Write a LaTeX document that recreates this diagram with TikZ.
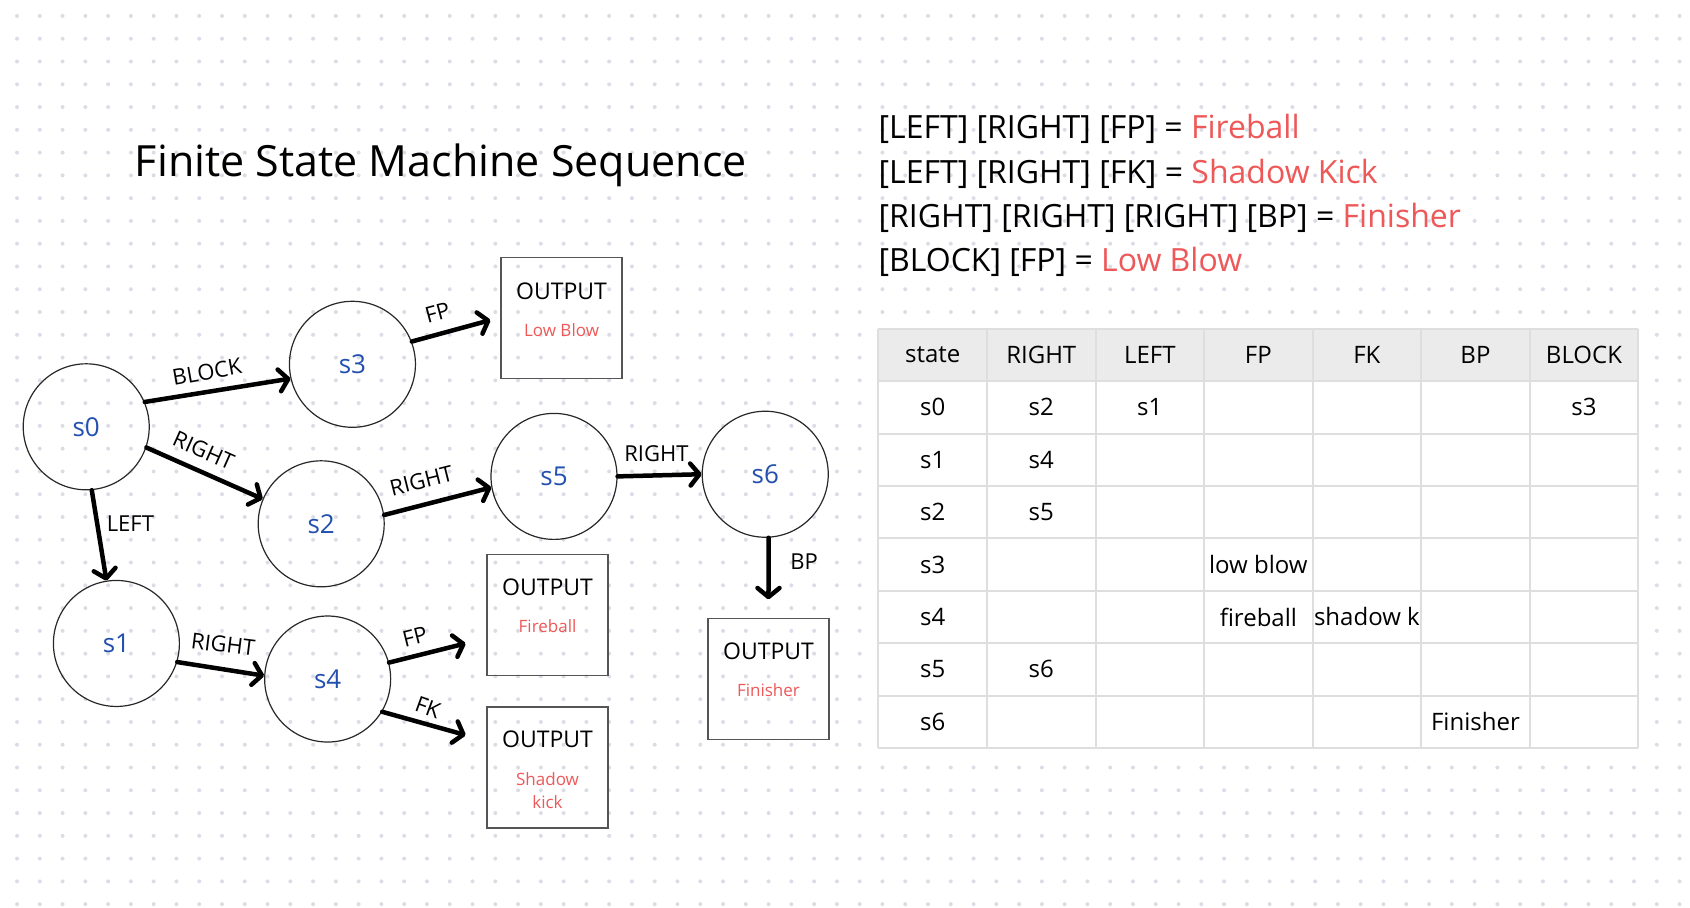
\documentclass[tikz,border=0pt]{standalone}
\usepackage{fontspec}
\setmainfont{Open Sans}
\newfontfamily\tabfont{Open Sans}
\usetikzlibrary{arrows.meta,calc}
\definecolor{dotc}{RGB}{218,221,230}
\definecolor{stblue}{RGB}{35,80,175}
\definecolor{outred}{RGB}{238,88,88}
\definecolor{tabline}{RGB}{222,222,222}
\definecolor{tabhead}{RGB}{235,235,235}
\definecolor{boxc}{RGB}{85,85,85}
\definecolor{circc}{RGB}{40,40,40}
\newcommand\mycell[3]{\node[cell] (t#1#2) at ({815+100.714*(#2+0.5)},{305+48.625*(#1+0.5)}) {#3};}
\begin{document}
\begin{tikzpicture}[x={(1.0778pt,0pt)}, y={(0pt,-1.0778pt)},
 state/.style={circle, draw=circc, line width=1.2pt, minimum size=126pt, inner sep=0pt, text=stblue, font=\fontsize{26}{30}\selectfont},
 outbox/.style={rectangle, draw=boxc, line width=1.4pt, minimum width=121pt, minimum height=121pt, inner sep=0pt},
 outtxt/.style={inner sep=0pt, font=\fontsize{23}{26}\selectfont},
 redtxt/.style={inner sep=0pt, text=outred, font=\fontsize{17}{20}\selectfont},
 edgelbl/.style={inner sep=0pt, font=\fontsize{22}{26}\selectfont},
 trans/.style={line width=4.5pt, line cap=round, -{Straight Barb[length=9pt,width=22pt,line cap=round,line join=round]}},
 cell/.style={inner sep=0pt, font=\tabfont\fontsize{24}{28}\selectfont},
 listtxt/.style={anchor=west, inner sep=0pt, font=\fontsize{32}{38}\selectfont}
]
\useasboundingbox (0,0) rectangle (1568,842);
\fill[white] (0,0) rectangle (1568,842);
\foreach \i in {0,...,73} \foreach \j in {0,...,39} \fill[dotc] (15.8+21.13*\i, 14.8+21.13*\j) circle (2pt);

% title and legend
\node[inner sep=0pt, font=\fontsize{43}{50}\selectfont] (title) at (409,153) {Finite State Machine Sequence};
\node[listtxt] (l1) at (815,120) {[LEFT] [RIGHT] [FP] = \textcolor{outred}{Fireball}};
\node[listtxt] (l2) at (815,161) {[LEFT] [RIGHT] [FK] = \textcolor{outred}{Shadow Kick}};
\node[listtxt] (l3) at (815,202) {[RIGHT] [RIGHT] [RIGHT] [BP] = \textcolor{outred}{Finisher}};
\node[listtxt] (l4) at (815,243) {[BLOCK] [FP] = \textcolor{outred}{Low Blow}};

% table
\fill[white] (815,305) rectangle (1520,694);
\fill[tabhead] (815,305) rectangle (1520,353.6);
\foreach \k in {0,...,7} \draw[tabline, line width=2pt] (815+100.714*\k,305) -- (815+100.714*\k,694);
\foreach \k in {0,...,8} \draw[tabline, line width=2pt] (815,305+48.625*\k) -- (1520,305+48.625*\k);
\mycell{0}{0}{state}\mycell{0}{1}{RIGHT}\mycell{0}{2}{LEFT}\mycell{0}{3}{FP}\mycell{0}{4}{FK}\mycell{0}{5}{BP}\mycell{0}{6}{BLOCK}
\mycell{1}{0}{s0}\mycell{1}{1}{s2}\mycell{1}{2}{s1}\mycell{1}{6}{s3}
\mycell{2}{0}{s1}\mycell{2}{1}{s4}
\mycell{3}{0}{s2}\mycell{3}{1}{s5}
\mycell{4}{0}{s3}\mycell{4}{3}{low blow}
\mycell{5}{0}{s4}\mycell{5}{3}{fireball}\mycell{5}{4}{shadow k}
\mycell{6}{0}{s5}\mycell{6}{1}{s6}
\mycell{7}{0}{s6}\mycell{7}{5}{Finisher}

% states
\node[state] (s0) at (80,396) {s0};
\node[state] (s3) at (327,338) {s3};
\node[state] (s2) at (298,486) {s2};
\node[state] (s5) at (514,442) {s5};
\node[state] (s6) at (710,440) {s6};
\node[state] (s1) at (108,597) {s1};
\node[state] (s4) at (304,630) {s4};

% output boxes
\node[outbox] (b3) at (521,295) {};
\node[outtxt] (b3o) at ($(b3.north)+(0,32)$) {OUTPUT};
\node[redtxt] (b3r) at ($(b3.north)+(0,68)$) {Low Blow};
\node[outbox] (bfb) at (508,570.5) {};
\node[outtxt] (bfbo) at ($(bfb.north)+(0,31)$) {OUTPUT};
\node[redtxt] (bfbr) at ($(bfb.north)+(0,67)$) {Fireball};
\node[outbox] (bsk) at (508,712) {};
\node[outtxt] (bsko) at ($(bsk.north)+(0,31)$) {OUTPUT};
\node[redtxt] (bskr) at ($(bsk.north)+(0,68)$) {Shadow};
\node[redtxt] (bskr2) at ($(bsk.north)+(0,89)$) {kick};
\node[outbox] (bfin) at (713,630) {};
\node[outtxt] (bfino) at ($(bfin.north)+(0,31)$) {OUTPUT};
\node[redtxt] (bfinr) at ($(bfin.north)+(0,67)$) {Finisher};

% free ends
\coordinate (e3) at (455,297);
\coordinate (efb) at (432,597);
\coordinate (esk) at (432,682);
\coordinate (efin) at (713,556);

% transitions
\draw[trans] (s0.23) -- (s3.193);
\draw[trans] (s3.21) -- (e3);
\draw[trans] (s0.-19) -- (s2.157);
\draw[trans] (s2.8) -- (s5.190);
\draw[trans] (s5.0) -- (s6.180);
\draw[trans] (s6.-87) -- (efin);
\draw[trans] (s0.-85) -- (s1.99);
\draw[trans] (s1.-17) -- (s4.177);
\draw[trans] (s4.15) -- (efb);
\draw[trans] (s4.-31) -- (esk);

% labels
\node[edgelbl, rotate=10] (lblock) at (192,345) {BLOCK};
\node[edgelbl, rotate=15] (lfp1) at (406,290) {FP};
\node[edgelbl, rotate=-24] (lr1) at (189,418) {RIGHT};
\node[edgelbl, rotate=14] (lr2) at (391,446) {RIGHT};
\node[edgelbl] (lr3) at (609,421) {RIGHT};
\node[edgelbl] (lbp) at (746,521) {BP};
\node[edgelbl] (lleft) at (121,486) {LEFT};
\node[edgelbl, rotate=-7] (lr4) at (207,598) {RIGHT};
\node[edgelbl, rotate=14] (lfp2) at (385,591) {FP};
\node[edgelbl, rotate=-20] (lfk) at (397,656) {FK};
\end{tikzpicture}
\end{document}
